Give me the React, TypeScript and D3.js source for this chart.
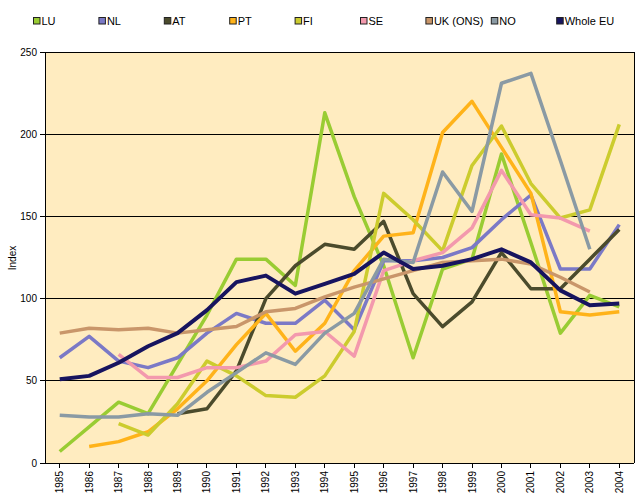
import React from "react";
import * as d3 from "d3";

const years = [
  "1985", "1986", "1987", "1988", "1989", "1990", "1991", "1992", "1993", "1994",
  "1995", "1996", "1997", "1998", "1999", "2000", "2001", "2002", "2003", "2004",
];

const LU = [7, 22, 37, 30, 60, 90, 124, 124, 108, 213, 162, 120, 64, 118, 124, 188, 134, 79, 102, 95];
const NL = [64, 77, 62, 58, 64, 79, 91, 85, 85, 99, 81, 123, 123, 125, 131, 148, 163, 118, 118, 145];
const AT = [null, null, null, null, 30, 33, 56, 100, 120, 133, 130, 147, 103, 83, 98, 128, 106, 106, 124, 142];
const PT = [null, 10, 13, 19, 33, 50, 72, 91, 68, 85, 117, 138, 140, 201, 220, 192, 164, 92, 90, 92];
const FI = [null, null, 24, 17, 36, 62, 53, 41, 40, 53, 80, 164, 148, 129, 181, 205, 170, 149, 154, 206];
const SE = [null, null, 66, 52, 52, 58, 58, 62, 78, 80, 65, 117, 123, 128, 143, 178, 151, 149, 141, null];
const UK = [79, 82, 81, 82, 79, 81, 83, 92, 94, 101, 107, 112, 117, 122, 123, 124, 121, 113, 104, null];
const NO = [29, 28, 28, 30, 29, 43, 55, 67, 60, 79, 91, 124, 122, 177, 153, 231, 237, 184, 130, null];
const EU = [51, 53, 61, 71, 79, 93, 110, 114, 103, 109, 115, 128, 118, 120, 124, 130, 122, 105, 96, 97];

const seriesNames = ["LU", "NL", "AT", "PT", "FI", "SE", "UK (ONS)", "NO", "Whole EU"];
const seriesValues = [LU, NL, AT, PT, FI, SE, UK, NO, EU];
const seriesColors = ["#99cc33", "#7b79c6", "#4b4b2c", "#ffb31a", "#cccc2e", "#f399ad", "#c9966a", "#8a9aa4", "#17145f"];

const yTicks = [0, 50, 100, 150, 200, 250];

const W = 640;
const H = 500;
const plot = { left: 45, right: 634, top: 52, bottom: 463 };
const FONT = "'Liberation Sans', Arial, sans-serif";

export default function App() {
  const x = d3.scalePoint<string>().domain(years).range([plot.left, plot.right]).padding(0.5);
  const y = d3.scaleLinear().domain([0, 250]).range([plot.bottom, plot.top]);

  const line = d3
    .line<number | null>()
    .defined((d) => d !== null)
    .x((_, i) => x(years[i]) as number)
    .y((d) => y(d as number));

  const legendX0 = 33;
  const legendStep = 65.4;

  return (
    <svg
      width={W}
      height={H}
      style={{ position: "absolute", left: 0, top: 0, background: "#ffffff" }}
      fontFamily={FONT}
    >
      <rect x={0} y={0} width={W} height={H} fill="#ffffff" />
      <rect
        x={plot.left}
        y={plot.top}
        width={plot.right - plot.left}
        height={plot.bottom - plot.top}
        fill="#ffecc0"
      />
      {yTicks.map((t) => (
        <g key={t}>
          <line x1={plot.left} x2={plot.right} y1={y(t)} y2={y(t)} stroke="#000" strokeWidth={1} shapeRendering="crispEdges" />
          <line x1={plot.left - 5} x2={plot.left} y1={y(t)} y2={y(t)} stroke="#000" strokeWidth={1} shapeRendering="crispEdges" />
          <text x={plot.left - 8} y={y(t)} dy="0.35em" textAnchor="end" fontSize={10} fill="#000">
            {t}
          </text>
        </g>
      ))}
      <line x1={plot.left} x2={plot.left} y1={plot.top} y2={plot.bottom} stroke="#000" shapeRendering="crispEdges" />
      <line x1={plot.right} x2={plot.right} y1={plot.top} y2={plot.bottom} stroke="#000" shapeRendering="crispEdges" />
      {years.map((yr) => (
        <g key={yr}>
          <line
            x1={x(yr)}
            x2={x(yr)}
            y1={plot.bottom}
            y2={plot.bottom + 5}
            stroke="#000"
            shapeRendering="crispEdges"
          />
          <text
            transform={`translate(${(x(yr) as number) + 3.5},${plot.bottom + 8}) rotate(-90)`}
            textAnchor="end"
            fontSize={10}
            fill="#000"
          >
            {yr}
          </text>
        </g>
      ))}
      <text
        transform={`translate(16,258) rotate(-90)`}
        textAnchor="middle"
        fontSize={10}
        fill="#000"
      >
        Index
      </text>
      {seriesValues.map((vals, i) => (
        <path
          key={seriesNames[i]}
          d={line(vals) || ""}
          fill="none"
          stroke={seriesColors[i]}
          strokeWidth={i === 8 ? 4 : 3.5}
          strokeLinejoin="round"
          strokeLinecap="butt"
        />
      ))}
      {seriesNames.map((n, i) => (
        <g key={n} transform={`translate(${legendX0 + i * legendStep},17)`}>
          <rect x={0.5} y={0.5} width={6.5} height={6.5} fill={seriesColors[i]} stroke="#222" strokeWidth={1} />
          <text x={8.5} y={8} fontSize={11} fill="#000">
            {n}
          </text>
        </g>
      ))}
    </svg>
  );
}
